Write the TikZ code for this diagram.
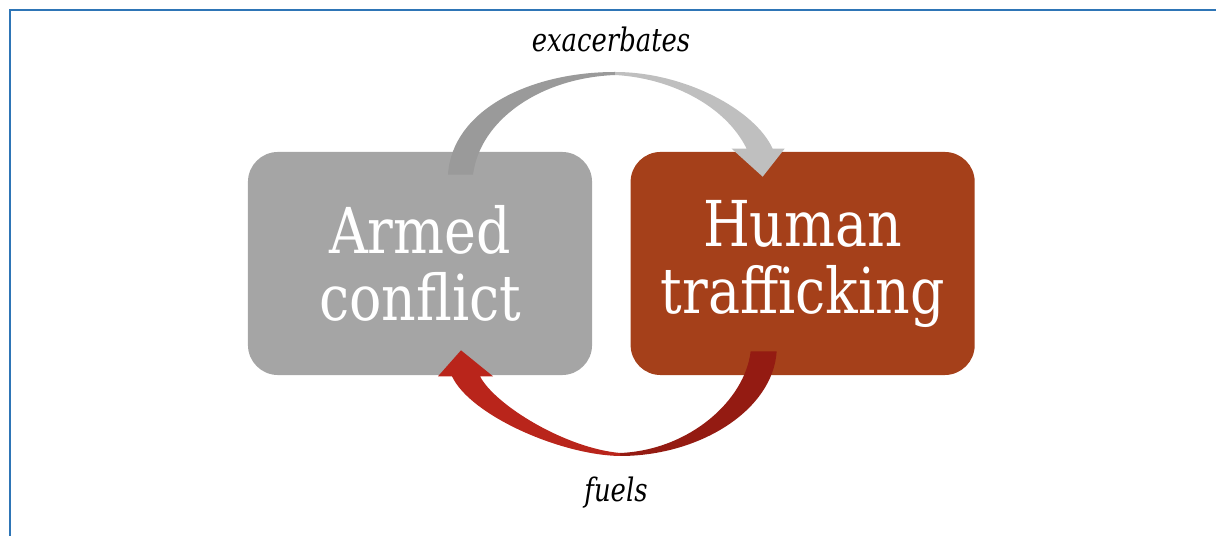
\documentclass[tikz,border=0pt]{standalone}
\usepackage{fontspec}
\setmainfont{DejaVu Serif}[FakeStretch=0.85]
\newfontfamily\labelfont{DejaVu Serif}[FakeStretch=0.8]
\usetikzlibrary{positioning}
\definecolor{frameblue}{RGB}{46,117,182}
\definecolor{mgray}{RGB}{165,165,165}
\definecolor{mrust}{RGB}{165,64,26}
\definecolor{ggray}{RGB}{154,154,154}
\definecolor{lgray}{RGB}{191,191,191}
\definecolor{lred}{RGB}{185,37,27}
\definecolor{dred}{RGB}{148,27,18}
\tikzset{box/.style = {rounded corners = 0.75cm, minimum width = 8.6cm,
                       minimum height = 5.575cm, inner sep = 0, align = center,
                       text = white, font = \fontsize{45}{47.6}\selectfont}}
\tikzset{lbl/.style = {anchor = base, font = \labelfont\itshape\fontsize{23}{27}\selectfont}}

\begin{document}
\begin{tikzpicture}[x = 0.025cm, y = -0.025cm]
    \useasboundingbox (0, 0) rectangle (1216, 536);
    \draw [frameblue, line width = 1.8pt] (10, 545) -- (10, 10) -- (1225, 10);

    \node [box, fill = mgray] (armed) at (420, 263.5) {Armed\\conflict};
    \node [box, fill = mrust, right = 0.95cm of armed] (human) {Human\\trafficking};

    % top arrow, armed -> human
    \coordinate (exa tail) at ([shift = {(28, 23)}] armed.north);
    \coordinate (exa tip) at ([shift = {(-40, 25)}] human.north);
    \fill [ggray] (exa tail) .. controls (452, 110) and (530, 72) .. (615, 72)
        -- (615, 75) .. controls (540, 78) and (480, 120) .. ([shift = {(25, 0)}] exa tail) -- cycle;
    \fill [lgray] (615, 72) .. controls (685, 72) and (755, 110) .. ([shift = {(10, -28)}] exa tip)
        -- ([shift = {(22, -28)}] exa tip) -- (exa tip) -- ([shift = {(-31, -28)}] exa tip)
        -- ([shift = {(-16, -28)}] exa tip) .. controls (725, 105) and (670, 78) .. (615, 75) -- cycle;
    \node [lbl] (exa) at (611, 52) {exacerbates};

    % bottom arrow, human -> armed
    \coordinate (fue tail) at ([shift = {(-26, -24)}] human.south);
    \coordinate (fue tip) at ([shift = {(41, -25)}] armed.south);
    \fill [dred] (fue tail) .. controls (773, 410) and (700, 456) .. (620, 456)
        -- (620, 453) .. controls (690, 450) and (745, 400) .. ([shift = {(-26, 0)}] fue tail) -- cycle;
    \fill [lred] (620, 456) .. controls (560, 455) and (470, 415) .. ([shift = {(-9, 26)}] fue tip)
        -- ([shift = {(-23, 26)}] fue tip) -- (fue tip) -- ([shift = {(32, 26)}] fue tip)
        -- ([shift = {(19, 26)}] fue tip) .. controls (495, 405) and (565, 448) .. (620, 453) -- cycle;
    \node [lbl] (fue) at (616, 502) {fuels};
\end{tikzpicture}
\end{document}
